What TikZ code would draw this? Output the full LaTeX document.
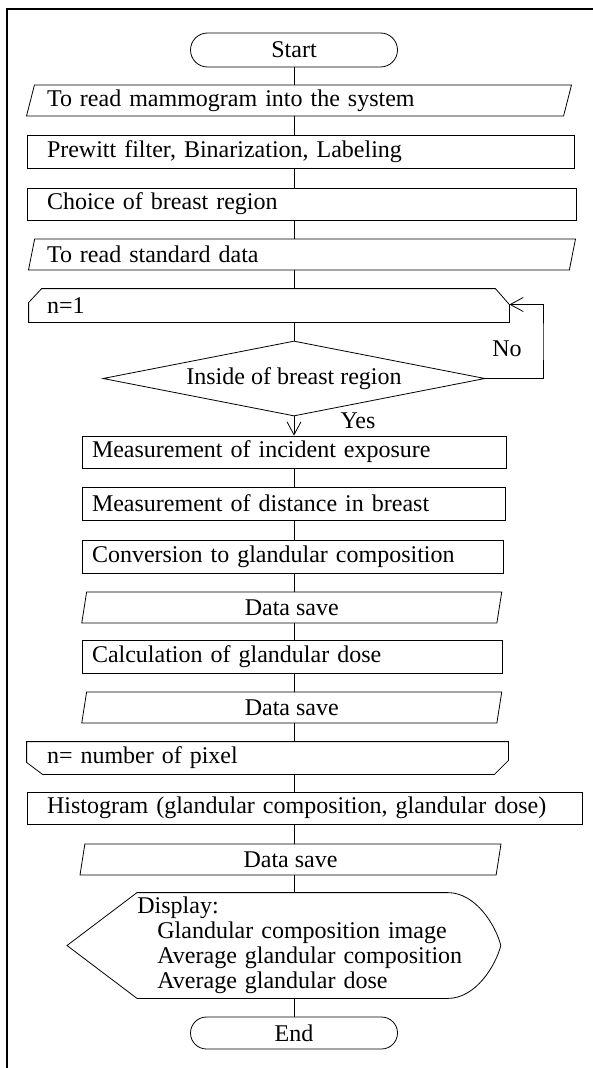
\documentclass[tikz,border=0pt]{standalone}
\usepackage{fontspec}
\setmainfont{Liberation Serif}
\usetikzlibrary{shapes.geometric,shapes.misc,arrows.meta}
\tikzset{every node/.style={font=\fontsize{24}{25}\selectfont},
  termbox/.style={draw, rounded rectangle, minimum width=207pt, minimum height=34pt, inner sep=0pt},
  procbox/.style={draw, rectangle, minimum height=33pt, inner xsep=20pt, inner ysep=0pt, align=left},
  iobox/.style={draw, trapezium, trapezium left angle=70, trapezium right angle=110, trapezium stretches body, minimum height=31pt, inner ysep=0pt},
  loopbox/.style={rectangle, minimum height=33pt, inner xsep=18pt, inner ysep=0pt, align=left},
  decbox/.style={draw, diamond, aspect=5.1, minimum width=382pt, minimum height=75pt, inner sep=0pt},
  lbl/.style={inner sep=0pt},
  arr/.style={-{Straight Barb[length=13pt,width=14pt]}}}

\begin{document}
\begin{tikzpicture}[x=1pt, y=-1pt, line width=0.8pt]
\useasboundingbox (0,0) rectangle (592,1068);
\draw[line width=1.6pt] (7,1072) -- (7,9) -- (596,9);
% boxes, top to bottom
\node[termbox] (start) at (294,50) {Start};
\node[iobox, minimum width=545pt, text width=504pt, align=left] (readmam) at (299,100.5) {To read mammogram into the system};
\node[procbox, minimum width=547pt, text width=507pt] (prewitt) at (300.5,151.5) {Prewitt filter, Binarization, Labeling};
\node[procbox, minimum width=549pt, text width=509pt, minimum height=32pt] (choice) at (301.5,204) {Choice of breast region};
\node[iobox, minimum width=547pt, text width=510pt, align=left] (readstd) at (302,254.5) {To read standard data};
\node[loopbox, minimum width=480pt, text width=444pt] (loopstart) at (269,305.5) {n=1};
\draw ([yshift=-14pt]loopstart.north west) -- ([xshift=13pt]loopstart.north west) -- ([xshift=-14pt]loopstart.north east)
  -- ([yshift=-16pt]loopstart.north east) -- (loopstart.south east) -- (loopstart.south west) -- cycle;
\node[decbox] (inside) at (294,378.5) {Inside of breast region};
\node[procbox, minimum width=424pt, text width=404pt, inner xsep=10pt, minimum height=32pt] (incid) at (294,452) {Measurement of incident exposure};
\node[procbox, minimum width=423pt, text width=403pt, inner xsep=10pt] (dist) at (293.5,503.5) {Measurement of distance in breast};
\node[procbox, minimum width=421pt, text width=401pt, inner xsep=10pt] (conv) at (292.5,556.5) {Conversion to glandular composition};
\node[iobox, trapezium left angle=73, trapezium right angle=107, minimum width=420pt] (save1) at (291.75,607.5) {Data save};
\node[procbox, minimum width=420pt, text width=400pt, inner xsep=10pt] (calc) at (292,656.5) {Calculation of glandular dose};
\node[iobox, trapezium left angle=73, trapezium right angle=107, minimum width=420pt] (save2) at (291.75,707.5) {Data save};
\node[loopbox, minimum width=481pt, text width=441pt, inner xsep=20pt, minimum height=32pt] (loopend) at (267.5,758) {n= number of pixel};
\draw (loopend.north west) -- (loopend.north east) -- ([yshift=14pt]loopend.south east) -- ([xshift=-14pt]loopend.south east)
  -- ([xshift=16pt]loopend.south west) -- ([yshift=12pt]loopend.south west) -- cycle;
\node[procbox, minimum width=555pt, text width=515pt, minimum height=32pt] (hist) at (304.5,808) {Histogram (glandular composition, glandular dose)};
\node[iobox, trapezium left angle=73, trapezium right angle=107, minimum width=421pt] (save3) at (290.5,859.5) {Data save};
\node[anchor=west, minimum height=105pt, inner sep=0pt, text width=330pt, align=left] (disp) at (137,945.5) {Display:\\\hspace*{20pt}Glandular composition image\\\hspace*{20pt}Average glandular composition\\\hspace*{20pt}Average glandular dose};
\draw ([xshift=-70pt]disp.west) -- (disp.north west) -- ([xshift=-20pt]disp.north east)
  .. controls ([xshift=8pt]disp.north east) and ([xshift=28pt,yshift=20pt]disp.east) .. ([xshift=33pt]disp.east)
  .. controls ([xshift=28pt,yshift=-20pt]disp.east) and ([xshift=8pt]disp.south east) .. ([xshift=-20pt]disp.south east)
  -- (disp.south west) -- cycle;
\node[termbox, minimum height=32pt] (finish) at (294,1033) {End};
\node[lbl] (no) at (507,349) {No};
\node[lbl] (yes) at (358,421) {Yes};
\coordinate (back) at (543,342);
% connectors
\draw (start.south) -- (start.south |- readmam.north);
\draw (readmam.south -| start) -- (prewitt.north -| start);
\draw (prewitt.south -| start) -- (choice.north -| start);
\draw (choice.south -| start) -- (readstd.north -| start);
\draw (readstd.south -| start) -- (loopstart.north -| start);
\draw (loopstart.south -| start) -- (inside.north);
\draw[arr] (inside.south) -- (incid.north -| start);
\draw[arr] (inside.east) -| (back) |- ([yshift=1pt]loopstart.east);
\draw (incid.south -| start) -- (dist.north -| start);
\draw (dist.south -| start) -- (conv.north -| start);
\draw (conv.south -| start) -- (save1.north -| start);
\draw (save1.south -| start) -- (calc.north -| start);
\draw (calc.south -| start) -- (save2.north -| start);
\draw (save2.south -| start) -- (loopend.north -| start);
\draw (loopend.south -| start) -- (hist.north -| start);
\draw (hist.south -| start) -- (save3.north -| start);
\draw (save3.south -| start) -- (disp.north -| start);
\draw (disp.south -| start) -- (finish.north);
\end{tikzpicture}
\end{document}
